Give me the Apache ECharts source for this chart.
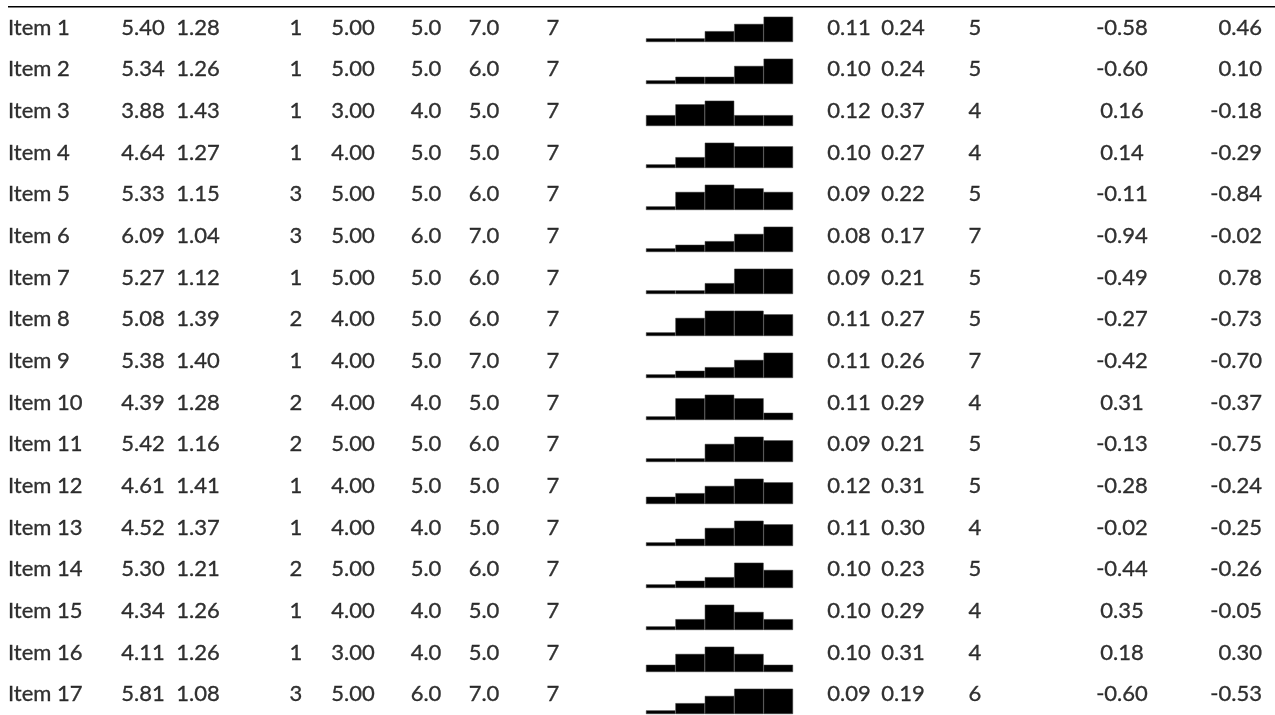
<!DOCTYPE html>
<html>
<head>
<meta charset="utf-8">
<script src="https://cdn.jsdelivr.net/npm/echarts@6/dist/echarts.min.js"></script>
<style>
  html, body { margin: 0; padding: 0; background: #fff; }
  #chart { width: 1275px; height: 715px; }
</style>
</head>
<body>
<div id="chart"></div>
<script>
const items = ['Item 1', 'Item 2', 'Item 3', 'Item 4', 'Item 5', 'Item 6', 'Item 7', 'Item 8', 'Item 9',
  'Item 10', 'Item 11', 'Item 12', 'Item 13', 'Item 14', 'Item 15', 'Item 16', 'Item 17']
const mean = [5.40, 5.34, 3.88, 4.64, 5.33, 6.09, 5.27, 5.08, 5.38, 4.39, 5.42, 4.61, 4.52, 5.30, 4.34, 4.11, 5.81]
const sd = [1.28, 1.26, 1.43, 1.27, 1.15, 1.04, 1.12, 1.39, 1.40, 1.28, 1.16, 1.41, 1.37, 1.21, 1.26, 1.26, 1.08]
const p0 = [1, 1, 1, 1, 3, 3, 1, 2, 1, 2, 2, 1, 1, 2, 1, 1, 3]
const p25 = [5, 5, 3, 4, 5, 5, 5, 4, 4, 4, 5, 4, 4, 5, 4, 3, 5]
const p50 = [5, 5, 4, 5, 5, 6, 5, 5, 5, 4, 5, 5, 4, 5, 4, 4, 6]
const p75 = [7, 6, 5, 5, 6, 7, 6, 6, 7, 5, 6, 5, 5, 6, 5, 5, 7]
const p100 = [7, 7, 7, 7, 7, 7, 7, 7, 7, 7, 7, 7, 7, 7, 7, 7, 7]
// spark histogram heights, in eighths of a block
const hist = [
  [1, 1, 3, 5, 7], [1, 2, 2, 5, 7], [3, 6, 7, 3, 3], [1, 3, 7, 6, 6], [1, 5, 7, 6, 5],
  [1, 2, 3, 5, 7], [1, 1, 3, 7, 7], [1, 5, 7, 7, 6], [1, 2, 3, 5, 7], [1, 6, 7, 6, 2],
  [1, 1, 5, 7, 6], [2, 3, 5, 7, 6], [1, 2, 5, 7, 6], [1, 2, 3, 7, 5], [1, 3, 7, 5, 3],
  [2, 5, 7, 5, 2], [1, 3, 5, 7, 7]
]
const se = [0.11, 0.10, 0.12, 0.10, 0.09, 0.08, 0.09, 0.11, 0.11, 0.11, 0.09, 0.12, 0.11, 0.10, 0.10, 0.10, 0.09]
const cv = [0.24, 0.24, 0.37, 0.27, 0.22, 0.17, 0.21, 0.27, 0.26, 0.29, 0.21, 0.31, 0.30, 0.23, 0.29, 0.31, 0.19]
const mode = [5, 5, 4, 4, 5, 7, 5, 5, 7, 4, 5, 5, 4, 5, 4, 4, 6]
const skew = [-0.58, -0.60, 0.16, 0.14, -0.11, -0.94, -0.49, -0.27, -0.42, 0.31, -0.13, -0.28, -0.02, -0.44, 0.35, 0.18, -0.60]
const kurt = [0.46, 0.10, -0.18, -0.29, -0.84, -0.02, 0.78, -0.73, -0.70, -0.37, -0.75, -0.24, -0.25, -0.26, -0.05, 0.30, -0.53]

const W = 1275
const rowH = 42
const textTop = 6.6
const histBase = 42
const histH = 28.9

// column layout: anchor x, alignment, digits
const columns = [
  { data: items, x: 8, align: 'left' },
  { data: mean, x: 143, align: 'center', dp: 2 },
  { data: sd, x: 198, align: 'center', dp: 2 },
  { data: p0, x: 296, align: 'center', dp: 0 },
  { data: p25, x: 353, align: 'center', dp: 2 },
  { data: p50, x: 426, align: 'center', dp: 1 },
  { data: p75, x: 484, align: 'center', dp: 1 },
  { data: p100, x: 553, align: 'center', dp: 0 },
  { data: se, x: 849, align: 'center', dp: 2 },
  { data: cv, x: 903, align: 'center', dp: 2 },
  { data: mode, x: 975, align: 'center', dp: 0 },
  { data: skew, x: 1122, align: 'center', dp: 2 },
  { data: kurt, x: 1262, align: 'right', dp: 2 }
]

const grid = [{ left: 0, width: W, top: textTop, height: rowH * items.length }]
const xAxis = [{ gridIndex: 0, type: 'value', min: 0, max: W, show: false }]
const yAxis = [{ gridIndex: 0, type: 'category', data: items, inverse: true, show: false }]
const series = []

columns.forEach(col => {
  series.push({
    type: 'scatter',
    xAxisIndex: 0,
    yAxisIndex: 0,
    symbolSize: 1,
    itemStyle: { color: 'rgba(0,0,0,0)' },
    data: col.data.map((v, i) => ({ value: [col.x, i], text: col.dp === undefined ? v : v.toFixed(col.dp) })),
    label: {
      show: true,
      position: 'inside',
      align: col.align,
      verticalAlign: 'middle',
      color: '#000',
      fontFamily: 'Lato',
      fontSize: 22,
      textBorderColor: '#000',
      textBorderWidth: 0.35,
      formatter: p => p.data.text
    }
  })
})

hist.forEach((h, i) => {
  const g = grid.length
  grid.push({ left: 646, width: 147, top: histBase + rowH * i - histH, height: histH })
  xAxis.push({ gridIndex: g, type: 'category', data: ['1', '2', '3', '4', '5'], show: false })
  yAxis.push({ gridIndex: g, type: 'value', min: 0, max: 8, show: false })
  series.push({
    type: 'bar',
    xAxisIndex: g,
    yAxisIndex: g,
    barCategoryGap: 0,
    data: h,
    itemStyle: { color: '#000', borderColor: '#3c3c3c', borderWidth: 0.5 }
  })
})

const chart = echarts.init(document.getElementById('chart'))
chart.setOption({
  animation: false,
  backgroundColor: '#fff',
  grid,
  xAxis,
  yAxis,
  series,
  graphic: [{
    type: 'line',
    shape: { x1: 8, y1: 6.7, x2: W, y2: 6.7 },
    style: { stroke: '#000', lineWidth: 1.6 },
    silent: true
  }]
})
</script>
</body>
</html>
